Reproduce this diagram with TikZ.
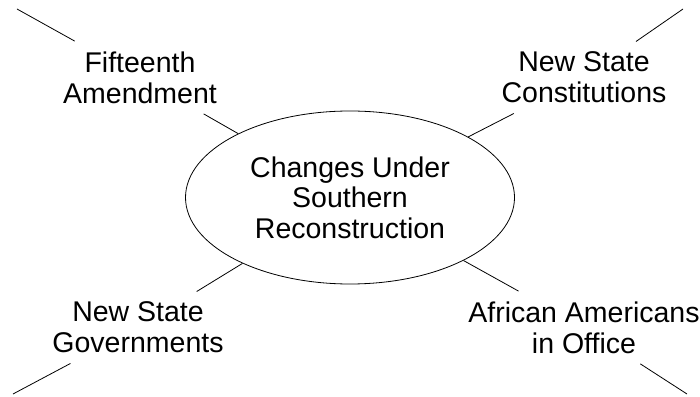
\documentclass[tikz,border=0pt]{standalone}
\usepackage{fontspec}
\setmainfont{Liberation Sans}
\usetikzlibrary{shapes.geometric}
\tikzset{
	lbl/.style={align=center, inner sep=10pt, font=\fontsize{28.5}{31}\selectfont},
	hub/.style={ellipse, draw, minimum width=329pt, minimum height=173pt, inner sep=0pt, align=center, font=\fontsize{28.5}{30.5}\selectfont}
}
\begin{document}
\begin{tikzpicture}[x=1pt,y=1pt,line width=0.8pt]
	\useasboundingbox (0,0) rectangle (700,396);
	% draw the hub
	\node[hub] (c) at (350,198.5) {Changes Under\\Southern\\Reconstruction};
	% draw the labels
	\node[lbl] (fa) at (140,318.5) {Fifteenth\\Amendment};
	\node[lbl] (nsc) at (584,318.5) {New State\\Constitutions};
	\node[lbl] (nsg) at (138,68.5) {New State\\Governments};
	\node[lbl] (aao) at (584,68.5) {African Americans\\in Office};
	% free ends of the spokes
	\coordinate (tl) at (17,387);
	\coordinate (tr) at (683,387);
	\coordinate (bl) at (13,2);
	\coordinate (br) at (687,2);
	% draw the spokes
	\foreach \n/\e in {fa/tl,nsc/tr,nsg/bl,aao/br}{\draw (c)--(\n); \draw (\n)--(\e);}
\end{tikzpicture}
\end{document}
